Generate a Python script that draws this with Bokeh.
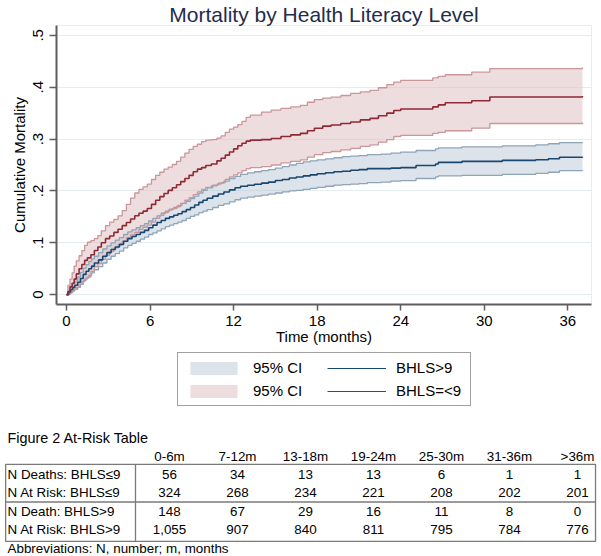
from bokeh.plotting import figure
from bokeh.models import Range1d, FixedTicker, Legend, LegendItem, ColumnDataSource
from bokeh.layouts import column
from bokeh.core.properties import value
from bokeh.embed import file_html
from bokeh.resources import INLINE

FONT = "Liberation Sans"

# ---------------- data ----------------
# BHLS <= 9 (low literacy): time (months), cumulative mortality, 95% CI
t_low = [0.0, 0.1, 0.25, 0.4, 0.55, 0.7, 0.9, 1.1, 1.3, 1.5, 1.75, 2.0, 2.25, 2.5, 2.8,
         3.1, 3.4, 3.7, 4.0, 4.3, 4.6, 4.9, 5.2, 5.5, 5.8, 6.1, 6.4, 6.7, 7.0, 7.3,
         7.6, 7.9, 8.2, 8.5, 8.8, 9.1, 9.4, 9.7, 10.0, 10.4, 10.8, 11.1, 11.4, 11.7, 12.0,
         12.3, 12.6, 12.9, 13.2, 14.0, 14.7, 15.4, 16.1, 16.8, 17.3, 17.8, 18.4, 19.0, 19.7,
         20.4, 21.1, 21.8, 22.4, 23.0, 23.5, 24.0, 26.3, 26.7, 27.2, 29.1, 30.4, 37.05]
m_low = [0.0, 0.006, 0.015, 0.022, 0.03, 0.04, 0.05, 0.058, 0.066, 0.071, 0.077, 0.085, 0.092, 0.1, 0.108,
         0.113, 0.12, 0.126, 0.133, 0.139, 0.146, 0.152, 0.157, 0.161, 0.166, 0.174, 0.182, 0.189, 0.195, 0.201,
         0.206, 0.212, 0.218, 0.224, 0.23, 0.237, 0.242, 0.245, 0.249, 0.252, 0.258, 0.263, 0.269, 0.275, 0.281,
         0.287, 0.292, 0.296, 0.298, 0.299, 0.301, 0.305, 0.308, 0.311, 0.316, 0.321, 0.325, 0.327, 0.33,
         0.333, 0.337, 0.34, 0.345, 0.35, 0.355, 0.358, 0.362, 0.366, 0.37, 0.374, 0.381, 0.383]
lo_low = [0.0, 0.0, 0.003, 0.006, 0.01, 0.014, 0.02, 0.025, 0.03, 0.034, 0.045, 0.054, 0.06, 0.068, 0.076,
          0.083, 0.09, 0.096, 0.103, 0.11, 0.115, 0.12, 0.126, 0.13, 0.134, 0.14, 0.147, 0.153, 0.158, 0.163,
          0.166, 0.17, 0.176, 0.182, 0.187, 0.193, 0.198, 0.203, 0.207, 0.21, 0.213, 0.216, 0.222, 0.227, 0.231,
          0.235, 0.239, 0.243, 0.245, 0.247, 0.25, 0.254, 0.257, 0.26, 0.265, 0.27, 0.274, 0.276, 0.279,
          0.282, 0.286, 0.289, 0.294, 0.299, 0.305, 0.307, 0.311, 0.313, 0.316, 0.321, 0.33, 0.332]
hi_low = [0.0, 0.018, 0.03, 0.042, 0.055, 0.065, 0.075, 0.085, 0.095, 0.101, 0.104, 0.108, 0.114, 0.123, 0.133,
          0.14, 0.145, 0.152, 0.162, 0.174, 0.186, 0.196, 0.203, 0.208, 0.213, 0.222, 0.23, 0.236, 0.242, 0.246,
          0.251, 0.257, 0.265, 0.273, 0.28, 0.286, 0.29, 0.295, 0.298, 0.299, 0.302, 0.306, 0.313, 0.319, 0.323,
          0.328, 0.334, 0.342, 0.346, 0.352, 0.356, 0.359, 0.362, 0.365, 0.371, 0.376, 0.379, 0.381, 0.384,
          0.388, 0.391, 0.394, 0.399, 0.405, 0.41, 0.413, 0.418, 0.421, 0.424, 0.429, 0.436, 0.438]

# BHLS > 9 (adequate literacy)
t_high = [0.0, 0.15, 0.3, 0.45, 0.6, 0.8, 1.0, 1.2, 1.4, 1.6, 1.8, 2.0, 2.3, 2.6, 2.9,
          3.2, 3.5, 3.8, 4.1, 4.4, 4.7, 5.0, 5.3, 5.6, 5.9, 6.2, 6.5, 6.8, 7.1, 7.4,
          7.7, 8.0, 8.3, 8.6, 8.9, 9.2, 9.5, 9.8, 10.1, 10.5, 10.9, 11.3, 11.7, 12.1, 12.5,
          13.0, 13.5, 14.0, 14.5, 15.0, 15.5, 16.0, 16.5, 17.0, 17.5, 18.0, 18.6, 19.2, 19.8,
          20.4, 21.0, 21.6, 22.6, 23.3, 24.0, 25.1, 26.5, 26.7, 28.4, 31.3, 33.7, 34.6, 35.4, 37.05]
m_high = [0.0, 0.005, 0.01, 0.014, 0.018, 0.024, 0.031, 0.039, 0.045, 0.05, 0.055, 0.061, 0.067, 0.074, 0.081,
          0.087, 0.092, 0.097, 0.103, 0.108, 0.112, 0.116, 0.12, 0.124, 0.129, 0.134, 0.139, 0.143, 0.147, 0.15,
          0.153, 0.156, 0.16, 0.164, 0.168, 0.173, 0.178, 0.182, 0.186, 0.19, 0.194, 0.198, 0.202, 0.206, 0.209,
          0.211, 0.213, 0.215, 0.217, 0.22, 0.222, 0.225, 0.227, 0.229, 0.231, 0.233, 0.235, 0.237, 0.238,
          0.24, 0.241, 0.243, 0.243, 0.244, 0.245, 0.249, 0.252, 0.255, 0.257, 0.259, 0.26, 0.262, 0.265, 0.266]
lo_high = [0.0, 0.002, 0.005, 0.008, 0.01, 0.014, 0.02, 0.027, 0.032, 0.037, 0.042, 0.048, 0.054, 0.061, 0.068,
           0.074, 0.079, 0.084, 0.09, 0.095, 0.099, 0.103, 0.107, 0.111, 0.116, 0.119, 0.123, 0.127, 0.131, 0.134,
           0.137, 0.14, 0.143, 0.147, 0.151, 0.154, 0.158, 0.161, 0.164, 0.168, 0.172, 0.175, 0.179, 0.183, 0.186,
           0.188, 0.19, 0.192, 0.194, 0.196, 0.198, 0.2, 0.201, 0.203, 0.205, 0.207, 0.209, 0.211, 0.212,
           0.213, 0.214, 0.216, 0.217, 0.219, 0.22, 0.224, 0.227, 0.229, 0.23, 0.232, 0.234, 0.236, 0.239, 0.24]
hi_high = [0.0, 0.008, 0.015, 0.021, 0.026, 0.034, 0.043, 0.051, 0.058, 0.064, 0.069, 0.074, 0.081, 0.088, 0.094,
           0.1, 0.105, 0.11, 0.116, 0.121, 0.125, 0.129, 0.133, 0.137, 0.142, 0.147, 0.152, 0.157, 0.161, 0.165,
           0.168, 0.172, 0.176, 0.18, 0.185, 0.19, 0.196, 0.201, 0.206, 0.211, 0.215, 0.219, 0.224, 0.228, 0.232,
           0.235, 0.237, 0.239, 0.241, 0.244, 0.247, 0.25, 0.253, 0.256, 0.258, 0.26, 0.262, 0.264, 0.266,
           0.267, 0.268, 0.27, 0.271, 0.273, 0.275, 0.278, 0.281, 0.283, 0.285, 0.287, 0.289, 0.291, 0.293, 0.294]

x_ticks = [0, 6, 12, 18, 24, 30, 36]
y_ticks = [0, 0.1, 0.2, 0.3, 0.4, 0.5]
y_tick_labels = ["0", ".1", ".2", ".3", ".4", ".5"]

# At-risk table
periods = ["0-6m", "7-12m", "13-18m", "19-24m", "25-30m", "31-36m", ">36m"]
row_labels = ["N Deaths: BHLS\u22649", "N At Risk: BHLS\u22649", "N Death: BHLS>9", "N At Risk: BHLS>9"]
deaths_low = [56, 34, 13, 13, 6, 1, 1]
risk_low = [324, 268, 234, 221, 208, 202, 201]
deaths_high = [148, 67, 29, 16, 11, 8, 0]
risk_high = [1055, 907, 840, 811, 795, 784, 776]

# ---------------- colours ----------------
NAVY = "#1a476f"
MAROON = "#8f2a35"
NAVY_CI = "#8ea4bb"
MAROON_CI = "#c9969a"
NAVY_FILL = "#b9c8d6"
MAROON_FILL = "#ddbcbe"


def no_frame_align(fig):
    if "frame_align" in fig.properties():
        fig.frame_align = False


W = 601
H1, H2 = 352, 204

# ---------------- main chart ----------------
p = figure(width=W, height=H1, x_range=Range1d(-0.72, 37.7), y_range=Range1d(-0.019, 0.519),
           output_backend="svg", toolbar_location=None,
           min_border_left=56, min_border_right=W - 591, min_border_top=23, min_border_bottom=48)
no_frame_align(p)
p.background_fill_color = "white"
p.border_fill_color = "white"
p.outline_line_color = "#e6edf0"

p.title.text = "Mortality by Health Literacy Level"
p.title.align = "center"
p.title.text_font = FONT
p.title.text_font_size = "21px"
p.title.text_font_style = "normal"
p.title.text_color = "#1f2d4b"
if "standoff" in p.title.properties():
    p.title.standoff = 0

src_low = ColumnDataSource(dict(t=t_low, m=m_low, lo=lo_low, hi=hi_low))
src_high = ColumnDataSource(dict(t=t_high, m=m_high, lo=lo_high, hi=hi_high))

p.varea_step(x="t", y1="lo", y2="hi", step_mode="after", source=src_high,
             fill_color=NAVY_FILL, fill_alpha=0.5)
p.varea_step(x="t", y1="lo", y2="hi", step_mode="after", source=src_low,
             fill_color=MAROON_FILL, fill_alpha=0.5)
for src, c in ((src_high, NAVY_CI), (src_low, MAROON_CI)):
    p.step(x="t", y="lo", mode="after", source=src, line_color=c, line_width=1.3)
    p.step(x="t", y="hi", mode="after", source=src, line_color=c, line_width=1.3)
p.step(x="t", y="m", mode="after", source=src_high, line_color=NAVY, line_width=1.6)
p.step(x="t", y="m", mode="after", source=src_low, line_color=MAROON, line_width=1.6)

p.xgrid.visible = False
p.ygrid.grid_line_color = "#e3ecef"
p.ygrid.grid_line_width = 1
p.xaxis.ticker = FixedTicker(ticks=x_ticks)
p.yaxis.ticker = FixedTicker(ticks=y_ticks)
p.yaxis.major_label_overrides = dict(zip(y_ticks, y_tick_labels))
p.yaxis.major_label_orientation = "vertical"
p.xaxis.axis_label = "Time (months)"
p.yaxis.axis_label = "Cumulative Mortality"
for ax in (p.xaxis, p.yaxis):
    ax.axis_line_color = "#5e5e5e"
    ax.axis_line_width = 2
    ax.major_tick_line_color = "#5e5e5e"
    ax.major_tick_line_width = 1.5
    ax.minor_tick_line_color = None
    ax.major_tick_in = 0
    ax.major_label_text_font = FONT
    ax.major_label_text_font_size = "15px"
    ax.major_label_text_color = "black"
    ax.axis_label_text_font = FONT
    ax.axis_label_text_font_size = "15px"
    ax.axis_label_text_font_style = "normal"
    ax.axis_label_text_color = "black"
p.xaxis.major_tick_out = 6
p.xaxis.major_label_standoff = 5
p.xaxis.axis_label_standoff = -1
p.yaxis.major_tick_out = 7
p.yaxis.major_label_standoff = 6
p.yaxis.axis_label_standoff = 3

# ---------------- legend + at-risk table (column index, row index) ----------------
ROW0 = 122  # canvas y of table row 0 inside the lower figure
q = figure(width=W, height=H2, x_range=Range1d(-169 / 68, (W - 169) / 68),
           y_range=Range1d((H2 - ROW0) / 18.33, -ROW0 / 18.33), output_backend="svg",
           toolbar_location=None, min_border=0, x_axis_location=None, y_axis_location=None)
no_frame_align(q)
q.grid.visible = False
q.outline_line_color = None
q.background_fill_color = "white"
q.border_fill_color = "white"

# legend keys: the series drawn again on a range that lies outside this panel (only used as keys)
q.extra_x_ranges = {"keys": Range1d(1000, 1001)}
k_ci_high = q.varea_step(x="t", y1="lo", y2="hi", step_mode="after", source=src_high,
                         fill_color=NAVY_FILL, fill_alpha=0.5, x_range_name="keys")
k_ci_low = q.varea_step(x="t", y1="lo", y2="hi", step_mode="after", source=src_low,
                        fill_color=MAROON_FILL, fill_alpha=0.5, x_range_name="keys")
k_high = q.step(x="t", y="m", mode="after", source=src_high, line_color=NAVY, line_width=1.1,
                x_range_name="keys")
k_low = q.step(x="t", y="m", mode="after", source=src_low, line_color=MAROON, line_width=1.1,
               x_range_name="keys")
legend = Legend(items=[LegendItem(label="95% CI", renderers=[k_ci_high]),
                       LegendItem(label="95% CI", renderers=[k_ci_low]),
                       LegendItem(label="BHLS>9", renderers=[k_high]),
                       LegendItem(label="BHLS=<9", renderers=[k_low])],
                ncols=2, location=(177, H2 - 54), padding=6, spacing=6, margin=0,
                glyph_width=59, glyph_height=16, label_height=16, label_width=68, label_standoff=10,
                label_text_font=FONT, label_text_font_size="15px", label_text_color="black",
                border_line_color="#444444", border_line_width=1, background_fill_color="white")
q.add_layout(legend)

LABEL_X = -2.382
cols = list(range(len(periods)))
q.text(x=[LABEL_X], y=[-2], text=["Figure 2 At-Risk Table"], text_font=value(FONT),
       text_font_size="14.4px", text_align="left", text_baseline="middle", text_color="black")
q.text(x=cols, y=[-1] * len(cols), text=periods, text_font=value(FONT), text_font_size="13.4px",
       text_align="center", text_baseline="middle", text_color="black")
q.text(x=[LABEL_X] * 4, y=[0, 1, 2, 3], text=row_labels, text_font=value(FONT), text_font_size="13.4px",
       text_align="left", text_baseline="middle", text_color="black")
for r, vals in enumerate((deaths_low, risk_low, deaths_high, risk_high)):
    q.text(x=cols, y=[r] * len(cols), text=[f"{v:,}" for v in vals], text_font=value(FONT),
           text_font_size="13.4px", text_align="center", text_baseline="middle", text_color="black")
q.text(x=[LABEL_X], y=[4.04], text=["Abbreviations: N, number; m, months"], text_font=value(FONT),
       text_font_size="13.4px", text_align="left", text_baseline="middle", text_color="black")

TL, TR, TT, TB, TM, TV = -2.41, 6.265, -0.55, 3.65, 1.5, -0.5
q.quad(left=[TL], right=[TR], top=[TT], bottom=[TB], fill_color=None,
       line_color="#7a7a7a", line_width=1.3)
q.segment(x0=[TL, TV], y0=[TM, TT], x1=[TR, TV], y1=[TM, TB], line_color="#7a7a7a", line_width=1.3)

layout = column(p, q, spacing=0)
open("out.html", "w").write(file_html(layout, INLINE))
